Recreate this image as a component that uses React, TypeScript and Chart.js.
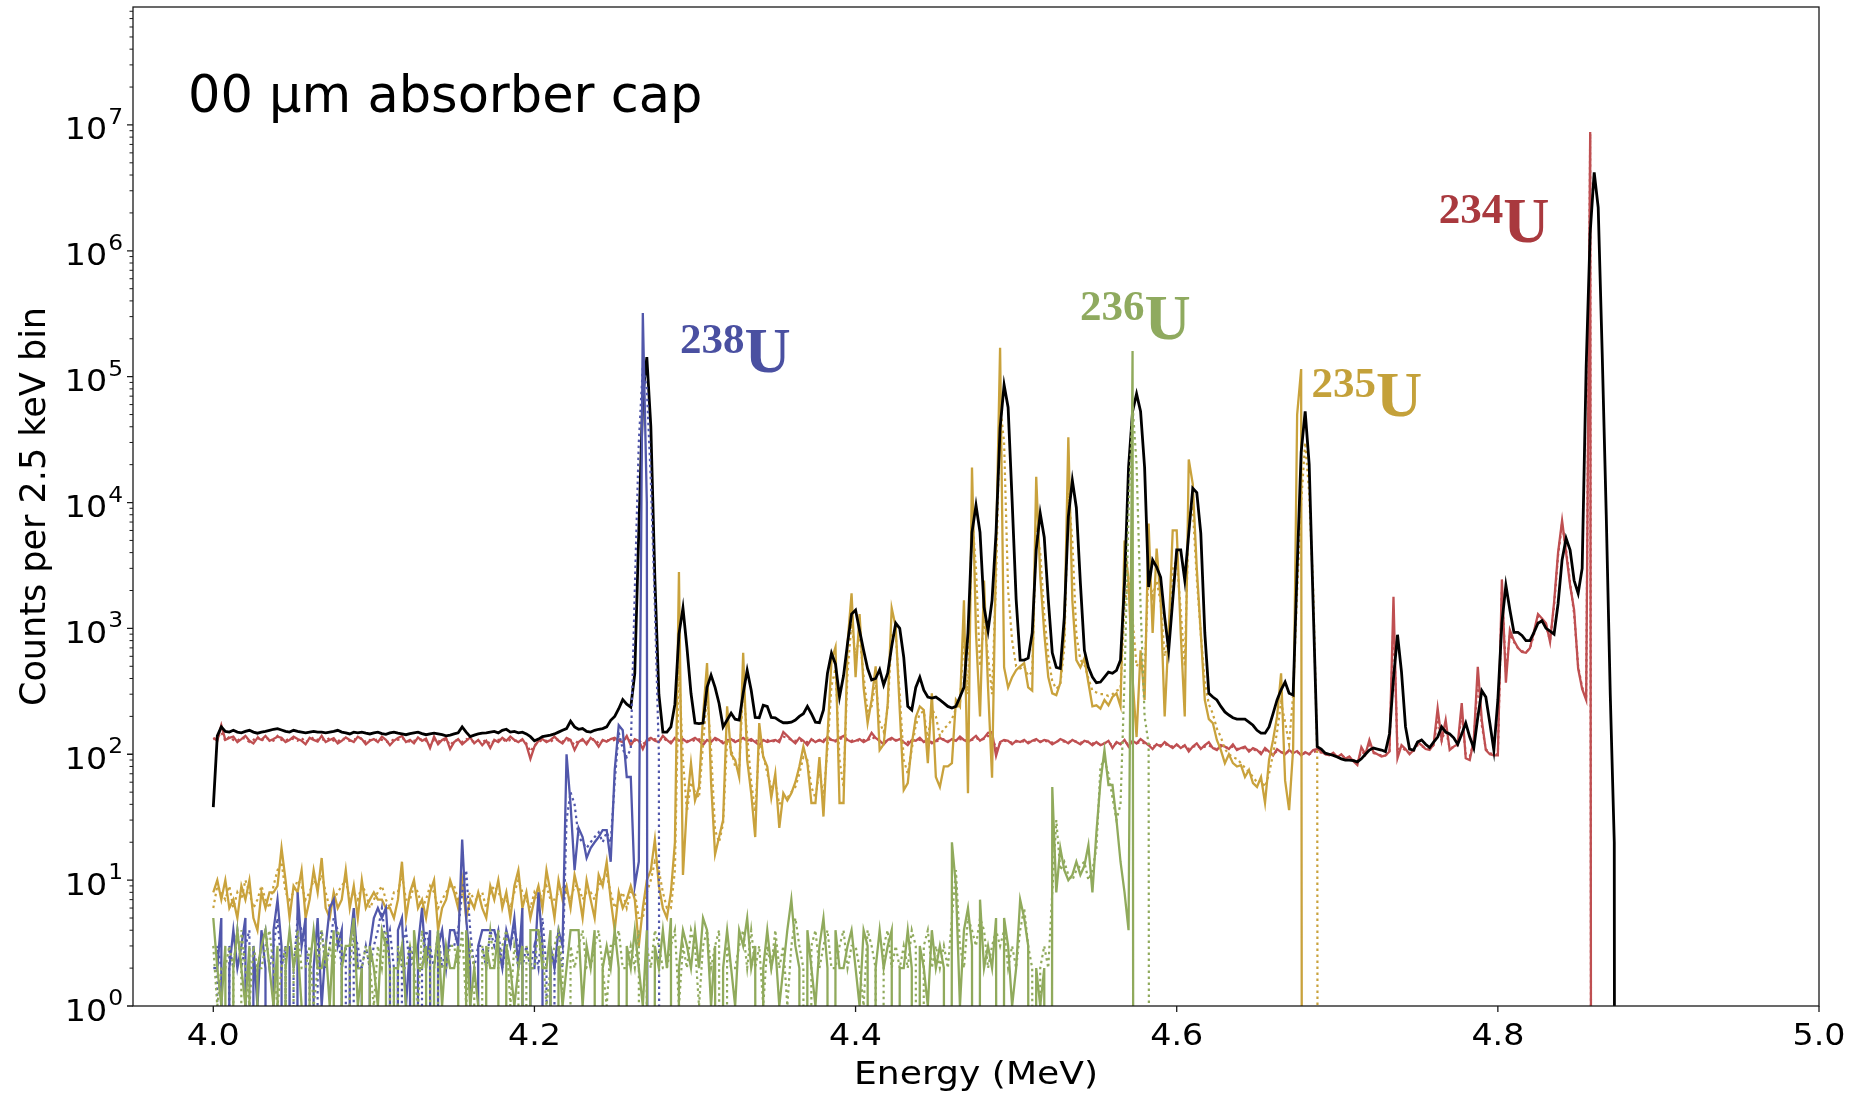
import React, { useEffect, useRef } from 'react';
import { Chart, registerables } from 'chart.js';

Chart.register(...registerables);

// ---- binning (2.5 keV bins starting at 4.000 MeV) ----
const BIN_START = 4.0;
const BIN_WIDTH = 0.0025;

// ---- axis ticks ----
const X_TICKS = [4.0, 4.2, 4.4, 4.6, 4.8, 5.0];
const X_TICK_LABELS = ['4.0', '4.2', '4.4', '4.6', '4.8', '5.0'];
const Y_DECADES = [0, 1, 2, 3, 4, 5, 6, 7];

// ---- counts per bin (0 = empty bin) ----
const TOTAL = [
  38,140,165,152,150,155,150,148,152,155,150,147,150,152,155,158,160,156,152,150,
  155,152,150,148,150,152,150,150,148,150,152,155,150,148,145,150,148,150,147,145,
  148,150,146,144,148,150,147,145,143,146,148,150,146,143,145,147,145,143,140,142,
  145,148,165,150,138,142,145,147,148,150,152,148,155,158,150,152,148,150,145,138,
  128,132,138,140,142,145,150,155,160,183,165,158,160,152,150,155,158,160,165,186,
  200,230,272,250,237,440,6000,70000,143000,40000,2500,300,150,150,165,250,900,1450,700,305,
  177,175,177,340,425,340,253,165,187,212,190,187,305,465,323,196,195,245,240,196,
  195,185,178,178,180,187,200,210,240,210,180,178,225,440,635,520,285,420,760,1300,
  1400,960,670,480,390,400,470,355,440,720,1100,1000,590,240,225,340,410,323,285,280,
  285,270,255,240,233,240,285,340,920,5800,9500,5800,1480,960,1670,5800,39000,86000,57000,10300,
  1700,560,560,580,920,4200,8200,5300,1700,640,490,480,1230,7700,15000,9100,2300,670,490,410,
  370,375,410,450,440,465,560,2300,19000,53000,73000,53000,19000,2130,3500,3070,2550,1230,670,1670,
  4200,4200,2430,5700,13000,12000,5700,920,305,285,270,240,217,205,195,190,190,190,180,170,
  155,147,147,165,210,270,325,375,305,295,3000,25000,53000,20000,1500,115,110,102,100,98,
  95,92,90,90,89,87,92,100,108,112,110,108,105,145,400,890,450,165,110,108,
  125,130,120,113,125,137,165,150,145,135,120,145,177,137,112,197,320,285,177,108,
  270,1100,2200,1400,930,930,880,800,800,930,1100,1150,1000,950,900,1570,3500,5200,4200,2400,
  1900,3000,120000,1400000,4200000,2200000,150000,8000,300,20,0,
];

const U234 = [
  135,128,170,130,135,138,125,132,140,128,122,135,130,140,128,132,138,135,125,130,
  138,132,128,120,135,130,126,140,125,130,134,122,128,136,130,125,138,132,120,128,
  132,125,138,130,118,128,135,140,125,130,122,136,128,133,112,138,120,130,135,110,
  125,132,120,128,136,122,130,118,128,112,130,125,135,128,138,130,125,132,118,92,
  115,128,132,125,130,138,128,122,135,130,108,125,132,120,135,128,115,130,126,132,
  135,128,125,140,118,132,128,110,130,135,128,125,140,130,122,135,128,132,125,130,
  135,128,118,130,125,135,130,122,128,132,125,130,135,128,132,125,118,130,125,128,
  130,125,150,140,130,122,135,128,118,132,125,130,125,138,130,128,135,140,130,125,
  128,132,125,130,148,135,128,120,130,135,128,132,125,118,130,128,135,125,130,122,
  128,135,130,125,132,128,138,130,125,132,140,128,135,148,150,97,125,130,128,120,
  128,125,130,122,128,132,125,130,128,120,125,132,128,122,130,125,120,128,125,118,
  125,118,122,128,112,125,120,130,115,128,122,132,125,118,110,120,115,125,118,112,
  120,112,118,105,115,122,110,118,125,112,108,118,115,110,120,108,112,115,105,112,
  108,100,112,105,98,110,104,100,108,102,106,98,104,100,108,110,105,100,98,103,
  95,100,92,96,88,82,114,100,130,104,100,96,98,105,1780,93,118,110,100,108,
  125,118,110,108,120,232,130,187,108,115,120,255,93,90,130,495,187,108,100,98,
  98,2450,370,970,800,700,650,640,700,950,1300,1200,1100,780,1600,4000,7200,4000,2200,1400,
  480,330,270,8800000,0,
];

const U234_ALT = [
  132,135,150,128,138,130,128,136,132,125,130,138,128,135,132,128,140,130,128,134,
  132,128,135,125,130,136,130,132,128,135,128,126,134,130,128,132,130,135,125,130,
  128,132,130,126,125,132,130,135,128,126,128,130,132,128,118,130,128,125,132,118,
  128,130,125,132,128,126,128,125,130,120,128,130,132,126,130,128,130,128,122,105,
  118,125,130,128,126,132,130,126,130,128,118,130,128,125,130,132,122,128,130,128,
  130,132,128,135,125,128,130,120,128,130,132,128,135,128,126,130,132,128,128,126,
  130,132,125,128,130,130,128,126,130,128,130,128,132,130,128,130,125,128,130,126,
  128,130,138,135,130,128,130,126,125,130,128,128,130,132,130,126,132,135,128,128,
  130,128,130,128,138,132,128,126,128,132,130,128,128,125,128,130,130,128,128,125,
  126,130,132,128,128,130,132,130,128,130,135,130,132,140,138,110,122,128,126,124,
  126,128,126,125,128,128,126,128,126,124,126,128,126,125,128,126,124,125,126,122,
  122,120,122,124,118,122,122,125,120,124,122,126,122,120,115,118,118,120,118,115,
  118,115,116,110,114,118,112,115,118,112,110,115,114,112,115,110,112,112,108,110,
  106,104,108,104,100,106,104,102,105,102,104,100,102,100,104,106,103,100,99,100,
  96,98,94,95,90,86,105,100,120,102,100,98,98,104,1200,110,112,108,102,106,
  118,116,112,110,118,190,128,160,112,114,118,210,100,96,125,400,170,110,102,100,
  100,2000,450,900,780,700,660,650,690,900,1250,1150,1050,800,1500,3800,6800,4200,2300,1300,
  500,340,280,8500000,0,
];

const U238 = [
  2,2,5,0,2,4,2,3,5,0,3,1,4,2,0,4,7,3,0,3,
  0,8,3,5,0,2,5,1,3,6,7,3,4,0,3,6,2,2,0,3,
  5,6,5,6,2,0,4,5,1,3,0,3,6,2,4,0,3,4,2,4,
  4,3,21,5,2,0,3,4,4,4,4,3,2,4,3,5,2,6,0,2,
  2,8,3,0,3,2,4,3,100,40,12,26,22,15,18,20,22,25,25,14,
  75,170,155,66,66,9,14,320000,10000,0,
];

const U238_ALT = [
  0,3,2,0,3,2,4,2,3,4,0,2,3,4,2,3,5,2,3,0,
  2,5,4,3,2,0,3,4,2,3,5,4,2,3,0,4,3,2,3,2,
  3,4,6,3,4,2,0,3,4,2,3,0,2,4,3,2,4,2,3,3,
  3,4,8,12,4,2,3,3,2,4,3,4,2,3,3,4,3,2,3,2,
  3,2,5,2,0,2,3,2,30,50,40,22,20,18,20,22,24,20,24,20,
  60,150,110,95,110,2000,30000,120000,80000,15000,1500,100,0,
];

const U235 = [
  8,10,7,10,6,7,5,9,7,10,5,4,8,6,8,8,9,18,10,5,
  9,8,12,5,7,12,8,15,6,5,8,6,7,12,6,9,5,10,6,7,
  8,7,7,6,6,5,7,14,5,8,10,6,7,5,8,10,4,6,7,10,
  8,6,10,5,7,6,8,6,5,9,7,10,6,8,5,9,12,6,8,5,
  7,9,6,12,8,5,10,7,9,6,11,8,5,10,7,5,11,9,14,7,
  4,8,6,7,9,7,3,6,10,12,21,9,6,5,8,20,2800,11,40,85,
  43,55,200,530,60,16,22,30,240,100,90,66,640,90,49,22,177,95,80,45,
  70,26,49,43,49,60,80,115,85,41,41,95,32,137,560,710,41,41,760,1900,
  410,1300,340,177,270,500,108,120,250,1450,1030,225,52,59,120,197,240,225,85,305,
  66,55,80,80,85,270,240,1670,49,19000,920,200,2400,340,65,4300,170000,490,340,410,
  465,500,530,340,320,16000,2600,920,410,305,295,370,920,33000,1670,560,490,580,370,240,
  245,230,270,245,285,305,240,5000,2300,400,137,670,270,6800,920,4300,1670,200,920,6000,
  6000,920,200,22000,14000,3000,920,270,190,177,130,108,85,100,85,80,82,66,75,59,
  55,66,41,90,130,200,440,62,36,110,50000,115000,0,
];

const U235_ALT = [
  6,9,8,7,9,6,8,7,10,8,6,7,9,7,6,9,12,14,8,7,
  8,10,9,7,8,10,9,11,8,6,7,8,9,10,7,8,7,9,8,6,
  7,8,9,7,6,8,8,11,7,7,9,8,6,7,9,8,6,7,8,9,
  9,7,8,7,8,7,7,8,6,8,9,8,7,7,6,8,10,8,7,6,
  8,7,8,9,7,7,8,9,8,7,9,9,7,8,8,7,9,10,11,8,
  6,7,8,6,8,8,5,5,8,10,14,12,8,6,6,12,500,90,35,60,
  50,45,120,300,110,25,20,28,130,110,80,75,350,140,60,35,120,100,70,55,
  60,40,45,45,50,55,70,95,90,55,45,75,45,110,350,480,90,55,450,1100,
  600,900,420,220,240,380,180,150,230,900,900,300,90,70,110,170,210,220,130,230,
  200,140,160,170,190,230,250,900,300,8000,3000,500,1200,600,300,2500,60000,30000,2000,800,
  500,480,500,420,450,6000,4000,1300,600,380,330,360,700,12000,5000,900,560,520,400,320,
  310,300,300,290,300,320,330,1500,2500,1200,500,560,450,2800,1800,2400,1600,600,900,3000,
  3500,1400,500,8000,9000,2500,900,370,250,210,160,137,110,100,95,92,85,78,72,66,
  60,62,55,70,100,150,260,180,120,300,2000,10000,30000,12000,2000,100,0,
];

const U236 = [
  5,2,1,3,0,2,4,2,1,3,0,2,3,4,2,1,3,0,2,4,
  2,3,1,0,2,4,2,2,3,1,4,0,2,3,3,5,1,2,0,3,
  2,1,4,3,0,2,2,3,1,0,4,2,2,3,0,2,4,1,3,2,
  2,3,0,4,1,2,1,0,3,2,2,4,0,3,2,1,2,3,0,4,
  4,4,2,2,4,0,3,1,2,4,4,4,1,3,2,4,0,2,3,2,
  4,2,0,3,2,4,2,1,4,0,3,2,4,2,5,0,2,4,3,2,
  4,2,5,4,1,3,0,2,4,2,1,4,3,5,2,3,0,2,4,2,
  3,1,2,4,7,3,2,0,4,2,1,3,5,2,0,4,2,2,3,4,
  2,1,4,3,0,2,4,2,3,4,0,2,2,4,2,0,3,2,1,4,
  2,3,2,0,20,9,1,4,6,3,0,7,2,3,2,5,0,5,3,1,
  2,7,5,3,0,2,1,2,0,55,8,18,12,10,11,14,11,13,19,8,
  24,60,108,57,57,30,14,8,4,160000,0,
];

const U236_ALT = [
  3,1,2,2,3,2,0,4,2,1,3,2,2,3,4,2,1,2,3,0,
  2,4,2,2,3,1,2,4,2,3,2,4,3,0,2,4,2,2,3,2,
  1,3,2,4,2,0,3,2,2,3,2,1,4,2,3,0,3,2,2,3,
  3,2,4,1,3,2,0,3,2,4,2,2,3,4,1,3,2,0,3,2,
  2,4,3,1,2,3,4,2,0,3,2,3,4,2,2,3,4,2,1,3,
  3,4,2,2,3,2,4,0,3,2,4,3,2,2,3,4,1,3,2,4,
  3,1,3,4,2,3,4,0,3,2,2,3,4,2,4,2,3,1,3,2,
  4,2,3,1,3,5,3,2,0,3,4,2,3,4,2,2,3,4,2,3,
  3,2,1,4,3,2,0,3,4,2,3,2,3,2,4,3,0,3,4,2,
  3,2,3,2,5,12,3,2,5,4,3,5,4,2,3,4,3,4,2,3,
  2,4,6,3,2,0,2,3,2,8,30,12,14,11,10,12,13,14,10,12,
  18,80,90,70,45,30,40,400,8000,60000,20000,1500,200,120,0,
];

// ---- isotope annotations (anchor: energy of left edge, counts at baseline) ----
const ISOTOPE_MASS = ['238', '236', '235', '234'];
const ISOTOPE_ENERGY = [4.2906, 4.5397, 4.6839, 4.7632];
const ISOTOPE_COUNTS = [1.09e5, 1.98e5, 4.86e4, 1.18e6];
const ISOTOPE_COLOR = ['#4a50a1', '#8faa5f', '#c4a13a', '#a9393e'];

const TITLE = '00 \u00b5m absorber cap';
const X_TITLE = 'Energy (MeV)';
const Y_TITLE = 'Counts per 2.5 keV bin';

const COLORS = {
  black: '#000000',
  red: '#bf4f51',
  blue: '#5157ab',
  gold: '#c9a23c',
  green: '#90aa5c',
};

const toPoints = (counts: number[]) =>
  counts.map((c, i) => ({
    x: Math.round((BIN_START + i * BIN_WIDTH) * 10000) / 10000,
    y: c > 0 ? c : 1e-30,
  }));

const SX = 1.11; // horizontal stretch of the axis text

function stretchedText(ctx: CanvasRenderingContext2D, text: string, x: number, y: number, align: CanvasTextAlign) {
  ctx.save();
  ctx.translate(x, y);
  ctx.scale(SX, 1);
  ctx.textAlign = align;
  ctx.fillText(text, 0, 0);
  ctx.restore();
}

const decorPlugin = {
  id: 'decor',
  afterDraw(chart: any) {
    const { ctx, chartArea: a, scales } = chart;
    const xs = scales.x;
    const ys = scales.y;
    ctx.save();
    ctx.textBaseline = 'alphabetic';

    // frame
    ctx.strokeStyle = '#1a1a1a';
    ctx.lineWidth = 1.3;
    ctx.strokeRect(a.left, a.top, a.right - a.left, a.bottom - a.top);

    // major ticks
    ctx.beginPath();
    X_TICKS.forEach((v) => {
      const px = xs.getPixelForValue(v);
      ctx.moveTo(px, a.bottom);
      ctx.lineTo(px, a.bottom + 6);
    });
    Y_DECADES.forEach((k) => {
      const py = ys.getPixelForValue(Math.pow(10, k));
      ctx.moveTo(a.left - 6, py);
      ctx.lineTo(a.left, py);
    });
    ctx.stroke();

    // minor ticks on log axis
    ctx.lineWidth = 1;
    ctx.beginPath();
    Y_DECADES.forEach((k) => {
      for (let m = 2; m <= 9; m++) {
        const v = m * Math.pow(10, k);
        if (v > ys.max) continue;
        const py = ys.getPixelForValue(v);
        ctx.moveTo(a.left - 3.5, py);
        ctx.lineTo(a.left, py);
      }
    });
    ctx.stroke();

    ctx.fillStyle = '#000';
    // x tick labels
    ctx.font = '30px "DejaVu Sans"';
    X_TICKS.forEach((v, i) => {
      stretchedText(ctx, X_TICK_LABELS[i], xs.getPixelForValue(v), a.bottom + 39, 'center');
    });

    // y tick labels: 10^k
    Y_DECADES.forEach((k) => {
      const py = ys.getPixelForValue(Math.pow(10, k));
      const exp = String(k);
      ctx.font = '21px "DejaVu Sans"';
      const expW = ctx.measureText(exp).width * SX;
      const right = a.left - 10;
      stretchedText(ctx, exp, right, py - 1, 'right');
      ctx.font = '30px "DejaVu Sans"';
      stretchedText(ctx, '10', right - expW - 1, py + 14.5, 'right');
    });

    // axis titles
    ctx.font = '32.5px "DejaVu Sans"';
    stretchedText(ctx, X_TITLE, (a.left + a.right) / 2, a.bottom + 78, 'center');
    ctx.font = '35px "DejaVu Sans"';
    ctx.save();
    ctx.translate(45, (a.top + a.bottom) / 2);
    ctx.rotate(-Math.PI / 2);
    ctx.textAlign = 'center';
    ctx.fillText(Y_TITLE, 0, 0);
    ctx.restore();

    // panel title
    ctx.font = '51px "DejaVu Sans"';
    ctx.textAlign = 'left';
    ctx.fillText(TITLE, a.left + 55, a.top + 105);

    // isotope labels
    ISOTOPE_MASS.forEach((mass, i) => {
      const px = xs.getPixelForValue(ISOTOPE_ENERGY[i]);
      const py = ys.getPixelForValue(ISOTOPE_COUNTS[i]);
      ctx.fillStyle = ISOTOPE_COLOR[i];
      ctx.textAlign = 'left';
      ctx.font = 'bold 43px "Liberation Serif"';
      ctx.fillText(mass, px, py - 19);
      const w = ctx.measureText(mass).width;
      ctx.font = 'bold 64px "Liberation Serif"';
      ctx.fillText('U', px + w, py);
    });

    ctx.restore();
  },
};

export default function App() {
  const canvasRef = useRef<HTMLCanvasElement | null>(null);

  useEffect(() => {
    const canvas = canvasRef.current;
    if (!canvas) return;

    const solid = (label: string, counts: number[], color: string, width: number) => ({
      label,
      data: toPoints(counts),
      borderColor: color,
      backgroundColor: color,
      borderWidth: width,
      pointRadius: 0,
      fill: false,
      tension: 0,
    });
    const dotted = (label: string, counts: number[], color: string) => ({
      ...solid(label, counts, color, 2.2),
      borderDash: [2.5, 3.5],
    });

    // dataset 0 is drawn on top
    const datasets = [
      solid('236U', U236, COLORS.green, 2.3),
      dotted('236U (alt)', U236_ALT, COLORS.green),
      solid('238U', U238, COLORS.blue, 2.3),
      dotted('238U (alt)', U238_ALT, COLORS.blue),
      solid('Total', TOTAL, COLORS.black, 2.8),
      solid('235U', U235, COLORS.gold, 2.3),
      dotted('235U (alt)', U235_ALT, COLORS.gold),
      solid('234U', U234, COLORS.red, 2.3),
      dotted('234U (alt)', U234_ALT, COLORS.red),
    ];

    const chart = new Chart(canvas, {
      type: 'line',
      data: { datasets } as any,
      options: {
        animation: false,
        responsive: false,
        devicePixelRatio: 1,
        events: [],
        layout: { padding: { left: 0, right: 35, top: 7, bottom: 0 } },
        plugins: {
          legend: { display: false },
          tooltip: { enabled: false },
        },
        scales: {
          x: {
            type: 'linear',
            min: 3.95,
            max: 5.0,
            grid: { display: false },
            border: { display: false },
            ticks: { display: false },
            afterFit: (s: any) => {
              s.height = 87;
            },
          },
          y: {
            type: 'logarithmic',
            min: 1,
            max: 8.65e7,
            grid: { display: false },
            border: { display: false },
            ticks: { display: false },
            afterFit: (s: any) => {
              s.width = 133;
            },
          },
        },
      } as any,
      plugins: [decorPlugin],
    });

    return () => {
      chart.destroy();
    };
  }, []);

  return (
    <div style={{ position: 'fixed', left: 0, top: 0, width: 1854, height: 1093, background: '#fff' }}>
      <canvas ref={canvasRef} width={1854} height={1093} style={{ display: 'block', width: 1854, height: 1093 }} />
    </div>
  );
}
